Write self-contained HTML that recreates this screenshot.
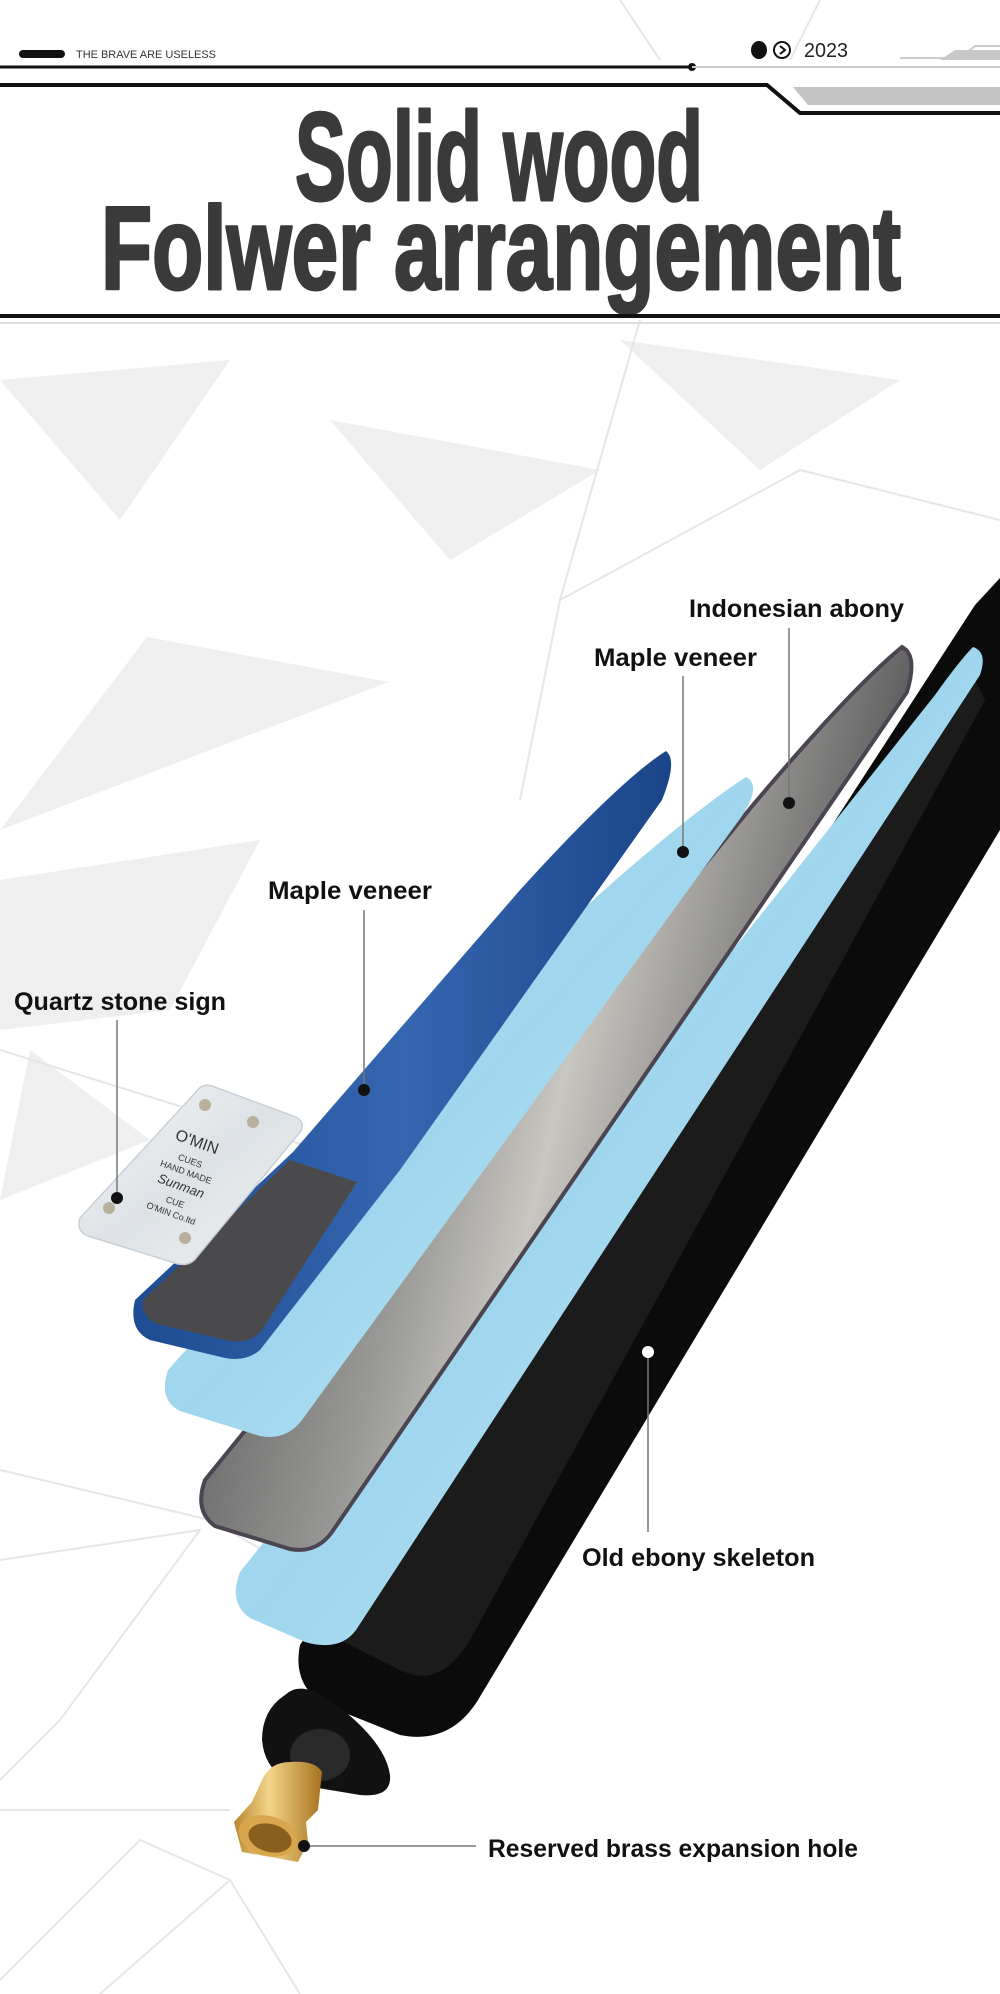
<!DOCTYPE html>
<html><head><meta charset="utf-8"><style>
html,body{margin:0;padding:0;background:#fff;}
svg{display:block;}
text{font-family:"Liberation Sans",sans-serif;}
</style></head><body>
<svg width="1000" height="1994" viewBox="0 0 1000 1994" xmlns="http://www.w3.org/2000/svg">
<defs>
<linearGradient id="lb" x1="0" y1="0" x2="1" y2="1"><stop offset="0" stop-color="#bfe6f5"/><stop offset="0.5" stop-color="#9fd6ee"/><stop offset="1" stop-color="#c6e9f6"/></linearGradient>
<linearGradient id="gr" x1="0" y1="0" x2="1" y2="0.3"><stop offset="0" stop-color="#3e3e40"/><stop offset="0.45" stop-color="#9a9a98"/><stop offset="0.6" stop-color="#c8c6c0"/><stop offset="1" stop-color="#4a4a4c"/></linearGradient>
<linearGradient id="bl" x1="0" y1="0" x2="1" y2="0"><stop offset="0" stop-color="#1d4c92"/><stop offset="0.5" stop-color="#3566b0"/><stop offset="1" stop-color="#1a4588"/></linearGradient>
<linearGradient id="br" x1="0" y1="0" x2="1" y2="0"><stop offset="0" stop-color="#b8852e"/><stop offset="0.4" stop-color="#f3d58a"/><stop offset="1" stop-color="#a8731f"/></linearGradient>
<linearGradient id="st" x1="0" y1="0" x2="1" y2="1"><stop offset="0" stop-color="#f4f6f8"/><stop offset="0.5" stop-color="#dde2e6"/><stop offset="1" stop-color="#eef1f3"/></linearGradient>
</defs>
<g fill="#efefef">
<polygon points="147,637 389,682 0,830"/>
<polygon points="0,380 230,360 120,520"/>
<polygon points="0,880 260,840 170,1010 0,1030"/>
<polygon points="30,1050 150,1140 0,1200"/>
<polygon points="330,420 600,470 450,560"/>
<polygon points="620,340 900,380 760,470"/>
</g>
<g stroke="#e6e6e6" stroke-width="2" fill="none">
<polyline points="0,1470 210,1520 280,1560"/>
<polyline points="0,1560 200,1530 60,1720 0,1780"/>
<polyline points="0,1980 140,1840 230,1880 300,1994"/>
<line x1="100" y1="1994" x2="230" y2="1880"/>
<polyline points="640,320 560,600 520,800"/>
<polyline points="0,1050 320,1150"/>
<polyline points="1000,520 800,470 560,600"/>
<line x1="0" y1="1810" x2="230" y2="1810"/>
<polyline points="620,0 660,60"/>
<polyline points="820,0 790,60"/>
</g>

<rect x="19" y="50" width="46" height="8" rx="4" fill="#111"/>
<text x="76" y="58" font-size="11" fill="#333" textLength="140" lengthAdjust="spacingAndGlyphs">THE BRAVE ARE USELESS</text>
<line x1="0" y1="67" x2="690" y2="67" stroke="#111" stroke-width="3"/>
<circle cx="692" cy="67" r="4" fill="#111"/>
<line x1="692" y1="67" x2="1000" y2="67" stroke="#ccc" stroke-width="2"/>
<ellipse cx="759" cy="50" rx="8" ry="9" fill="#111"/>
<circle cx="782" cy="50" r="8" fill="none" stroke="#111" stroke-width="2"/>
<polyline points="780,46 785,50 780,54" fill="none" stroke="#111" stroke-width="2"/>
<text x="804" y="57" font-size="20" fill="#222" textLength="44" lengthAdjust="spacingAndGlyphs">2023</text>
<polyline points="900,58 960,58 975,46 1000,46" fill="none" stroke="#ccc" stroke-width="2"/>
<polygon points="940,60 955,50 1000,50 1000,60" fill="#c8c8c8"/>
<polyline points="0,85 767,85 800,113 1000,113" fill="none" stroke="#111" stroke-width="4"/>
<polygon points="793,87 1000,87 1000,105 808,105" fill="#c4c4c4"/>
<text x="499" y="200" font-size="125" font-weight="bold" fill="#3a3a3a" stroke="#3a3a3a" stroke-width="3" stroke-linejoin="round" text-anchor="middle" textLength="408" lengthAdjust="spacingAndGlyphs">Solid wood</text>
<text x="501" y="289" font-size="118" font-weight="bold" fill="#3a3a3a" stroke="#3a3a3a" stroke-width="3" stroke-linejoin="round" text-anchor="middle" textLength="800" lengthAdjust="spacingAndGlyphs">Folwer arrangement</text>
<line x1="0" y1="316" x2="1000" y2="316" stroke="#111" stroke-width="4"/>
<line x1="0" y1="323" x2="1000" y2="323" stroke="#ddd" stroke-width="2"/>

<path d="M975,605 L1000,578 L1000,830 L478,1700 Q450,1745 400,1735 L325,1705 Q292,1685 300,1645 Z" fill="#0b0b0b"/>
<path d="M965,660 L985,700 L470,1640 Q440,1690 400,1670 L340,1640 Q320,1620 335,1600 Z" fill="#222" opacity="0.7"/>
<path d="M973,647 Q988,652 980,675 L356,1630 Q340,1652 305,1642 L250,1618 Q228,1603 240,1572 L935,695 Q960,660 973,647 Z" fill="url(#lb)"/>
<path d="M902,647 Q918,655 907,692 L332,1532 Q316,1554 290,1549 L215,1526 Q194,1511 205,1480 L753,805 Q850,690 902,647 Z" fill="url(#gr)" stroke="#4a4550" stroke-width="4"/>
<path d="M746,777 Q762,785 742,816 L302,1420 Q286,1441 260,1436 L180,1411 Q158,1400 168,1370 L560,930 Q680,820 746,777 Z" fill="url(#lb)"/>
<path d="M666,751 Q678,760 662,800 L400,1170 L260,1350 Q246,1362 225,1358 L150,1340 Q128,1330 135,1300 L293,1152 L520,890 Q620,780 666,751 Z" fill="url(#bl)"/>
<path d="M290,1160 L357,1182 L262,1330 Q250,1344 230,1341 L157,1324 Q141,1316 143,1300 Z" fill="#4a4a4c"/>
<path d="M212,1086 L296,1117 Q305,1122 301,1131 L196,1258 Q190,1266 178,1264 L88,1236 Q76,1231 80,1218 L196,1092 Q202,1083 212,1086 Z" fill="url(#st)" stroke="#c9cfd4" stroke-width="1.5"/>
<g fill="#b8b09a"><circle cx="205" cy="1105" r="6"/><circle cx="253" cy="1122" r="6"/><circle cx="109" cy="1208" r="6"/><circle cx="185" cy="1238" r="6"/></g>
<g transform="translate(185,1175) rotate(20)" fill="#333" font-family="Liberation Serif,serif" text-anchor="middle">
<text x="0" y="-30" font-size="16">O'MIN</text>
<text x="0" y="-12" font-size="9">CUES</text>
<text x="0" y="0" font-size="9">HAND MADE</text>
<text x="0" y="16" font-size="13" font-style="italic">Sunman</text>
<text x="0" y="32" font-size="9">CUE</text>
<text x="0" y="44" font-size="9">O'MIN Co.ltd</text>
</g>
<path d="M285,1695 Q300,1680 330,1700 Q385,1740 390,1775 Q392,1798 360,1795 L300,1785 Q265,1775 262,1740 Q262,1710 285,1695 Z" fill="#111"/>
<ellipse cx="320" cy="1755" rx="30" ry="26" fill="#2a2a2a"/>
<path d="M290,1762 Q315,1760 322,1772 L318,1810 L306,1822 L308,1842 L298,1862 L242,1852 L234,1822 L252,1802 L262,1780 Q270,1762 290,1762 Z" fill="url(#br)"/>
<ellipse cx="268" cy="1836" rx="30" ry="20" fill="#d9a64e" transform="rotate(15 268 1836)"/>
<ellipse cx="270" cy="1838" rx="22" ry="14" fill="#8a5e1c" transform="rotate(15 270 1838)"/>

<g font-size="25" fill="#111" font-weight="bold">
<text x="689" y="617" textLength="215" lengthAdjust="spacingAndGlyphs">Indonesian abony</text>
<text x="594" y="666" textLength="163" lengthAdjust="spacingAndGlyphs">Maple veneer</text>
<text x="268" y="899" textLength="164" lengthAdjust="spacingAndGlyphs">Maple veneer</text>
<text x="14" y="1010" textLength="212" lengthAdjust="spacingAndGlyphs">Quartz stone sign</text>
<text x="582" y="1566" textLength="233" lengthAdjust="spacingAndGlyphs">Old ebony skeleton</text>
<text x="488" y="1857" textLength="370" lengthAdjust="spacingAndGlyphs">Reserved brass expansion hole</text>
</g>
<g stroke="#777" stroke-width="1.5">
<line x1="789" y1="628" x2="789" y2="801"/>
<line x1="683" y1="676" x2="683" y2="850"/>
<line x1="364" y1="910" x2="364" y2="1088"/>
<line x1="117" y1="1020" x2="117" y2="1196"/>
<line x1="648" y1="1352" x2="648" y2="1532"/>
<line x1="304" y1="1846" x2="476" y2="1846"/>
</g>
<g fill="#111">
<circle cx="789" cy="803" r="6"/><circle cx="683" cy="852" r="6"/><circle cx="364" cy="1090" r="6"/><circle cx="117" cy="1198" r="6"/><circle cx="304" cy="1846" r="6"/>
</g>
<circle cx="648" cy="1352" r="6" fill="#fff"/>
</svg>
</body></html>
